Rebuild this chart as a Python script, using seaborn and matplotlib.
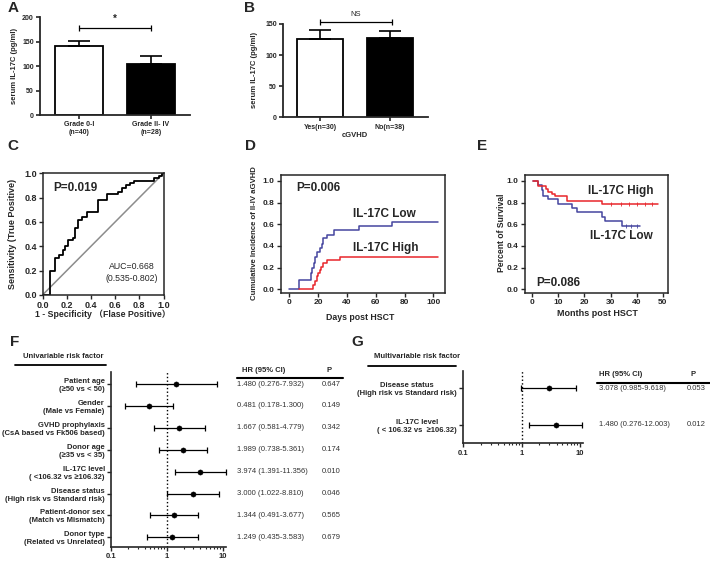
import numpy as np
import pandas as pd
import matplotlib
matplotlib.use("Agg")
import matplotlib.pyplot as plt
import seaborn as sns
from matplotlib.lines import Line2D
from matplotlib.ticker import LogLocator, NullFormatter
from matplotlib.transforms import blended_transform_factory

# ---- panel A / B : serum IL-17C ----
a_groups = ['Grade 0-I\n(n=40)', 'Grade II- IV\n(n=28)']
a_mean = [140.5, 104.5]
a_sem = [11, 15.5]
b_groups = ['Yes(n=30)', 'No(n=38)']
b_mean = [126, 127.5]
b_sem = [14, 12]

# ---- panel C : ROC ----
roc_fpr = [0, 0.066, 0.10, 0.14, 0.17, 0.19, 0.21, 0.25, 0.27, 0.29, 0.33, 0.37,
           0.46, 0.53, 0.62, 0.66, 0.69, 0.72, 0.76, 0.92, 0.96, 0.99, 1.0]
roc_tpr = [0, 0.20, 0.305, 0.33, 0.37, 0.40, 0.45, 0.47, 0.55, 0.62, 0.64, 0.68,
           0.78, 0.83, 0.85, 0.88, 0.90, 0.92, 0.94, 0.96, 0.98, 1.0, 1.0]

# ---- panel D : cumulative incidence ----
d_low_days = [0, 7, 15, 16, 17, 18, 19.5, 21, 22.5, 23.5, 26, 31, 48, 71, 103]
d_low_inc = [0, 0.09, 0.15, 0.20, 0.24, 0.30, 0.34, 0.38, 0.42, 0.47, 0.50, 0.55, 0.58, 0.62, 0.62]
d_high_days = [7, 16.5, 18, 19, 20, 21, 22, 23.5, 26, 35, 103]
d_high_inc = [0, 0.04, 0.08, 0.12, 0.15, 0.18, 0.21, 0.24, 0.27, 0.30, 0.30]

# ---- panel E : survival ----
e_low_months = [0.4, 2.3, 3.6, 4.2, 6.1, 10.0, 15.1, 17.0, 26.6, 27.9, 34.3, 41.3]
e_low_surv = [1.0, 0.96, 0.915, 0.86, 0.83, 0.786, 0.752, 0.71, 0.669, 0.63, 0.583, 0.583]
e_high_months = [0.4, 2.3, 5.1, 6.1, 7.4, 8.7, 13.2, 26.6, 48.1]
e_high_surv = [1.0, 0.955, 0.93, 0.90, 0.88, 0.86, 0.817, 0.79, 0.79]
e_high_cens = [30, 34, 37, 40, 43, 46]
e_low_cens = [36, 38, 40]

# ---- panel F : univariable ----
f_factors = ['Patient age\n(≥50 vs < 50)', 'Gender\n(Male vs Female)',
             'GVHD prophylaxis\n(CsA based vs Fk506 based)', 'Donor age\n(≥35 vs < 35)',
             'IL-17C level\n( <106.32 vs ≥106.32)', 'Disease status\n(High risk vs Standard risk)',
             'Patient-donor sex\n(Match vs Mismatch)', 'Donor type\n(Related vs Unrelated)']
f_hr = [1.480, 0.481, 1.667, 1.989, 3.974, 3.000, 1.344, 1.249]
f_lo = [0.276, 0.178, 0.581, 0.738, 1.391, 1.022, 0.491, 0.435]
f_hi = [7.932, 1.300, 4.779, 5.361, 11.356, 8.810, 3.677, 3.583]
f_p = ['0.647', '0.149', '0.342', '0.174', '0.010', '0.046', '0.565', '0.679']

# ---- panel G : multivariable ----
g_factors = ['Disease status\n(High risk vs Standard risk)', 'IL-17C level\n( < 106.32 vs  ≥106.32)']
g_hr = [2.9, 3.85]
g_lo = [0.985, 1.35]
g_hi = [8.6, 10.7]
g_table = ['3.078 (0.985-9.618)', '1.480 (0.276-12.003)']
g_p = ['0.053', '0.012']

BLUE = '#45459f'
RED = '#e8262b'

sns.set_style('ticks')
plt.rcParams['font.family'] = ['Liberation Sans', 'Noto Sans CJK SC', 'DejaVu Sans']
plt.rcParams['font.weight'] = 'bold'
plt.rcParams['axes.linewidth'] = 1.1

W, H = 710, 562
fig = plt.figure(figsize=(7.1, 5.62), dpi=100)


def box(x0, y0, x1, y1):
    return [x0 / W, 1 - y1 / H, (x1 - x0) / W, (y1 - y0) / H]


def ftext(x, y, s, **kw):
    kw.setdefault('ha', 'center')
    kw.setdefault('va', 'center')
    fig.text(x / W, 1 - y / H, s, **kw)


def fline(x0, x1, y, lw=1.3):
    fig.add_artist(Line2D([x0 / W, x1 / W], [1 - y / H, 1 - y / H], color='black', lw=lw,
                          transform=fig.transFigure))


def bars(ax, groups, mean, sem):
    df = pd.DataFrame({'group': groups, 'mean': mean})
    sns.barplot(data=df, x='group', y='mean', hue='group', palette=['white', 'black'],
                edgecolor='black', linewidth=1.3, width=0.66, legend=False, ax=ax)
    ax.errorbar(range(len(mean)), mean, yerr=[[0] * len(sem), sem], fmt='none',
                ecolor='black', elinewidth=1.2, capsize=8, capthick=1.2)
    ax.set_xlabel('')
    ax.set_ylabel('')
    sns.despine(ax=ax)
    ax.spines[['left', 'bottom']].set_linewidth(1.3)
    ax.tick_params(length=3, width=1.2, labelsize=5, pad=1.5)


# A
axA = fig.add_axes(box(40, 17.3, 190, 115))
bars(axA, a_groups, a_mean, a_sem)
axA.set_xlim(-0.54, 1.54)
axA.set_ylim(0, 200)
axA.set_yticks([0, 50, 100, 150, 200])
axA.plot([0, 1], [177.5, 177.5], color='black', lw=0.9, marker='|', ms=5, mew=0.9)
axA.text(0.5, 186, '*', ha='center', va='bottom', fontsize=7)
ftext(15, 66, 'serum IL-17C (pg/ml)', rotation=90, fontsize=5.5)

# B
axB = fig.add_axes(box(283, 24, 428, 117.3))
bars(axB, b_groups, b_mean, b_sem)
axB.set_xlim(-0.53, 1.55)
axB.set_ylim(0, 150)
axB.set_yticks([0, 50, 100, 150])
axB.plot([0, 1.03], [153.7, 153.7], color='black', lw=0.9, marker='|', ms=5, mew=0.9, clip_on=False)
axB.text(0.515, 160, 'NS', ha='center', va='bottom', fontsize=5.5, fontweight='normal')
ftext(255, 70, 'serum IL-17C (pg/ml)', rotation=90, fontsize=5.5)
ftext(355, 135, 'cGVHD', fontsize=5.5)

# C
axC = fig.add_axes(box(42.5, 173.3, 163.5, 295))
axC.plot([0, 1], [0, 1], color='#8c8c8c', lw=1.1)
sns.lineplot(x=roc_fpr, y=roc_tpr, drawstyle='steps-post', estimator=None, sort=False,
             color='black', lw=1.3, ax=axC)
axC.set_xlim(0, 1)
axC.set_ylim(0, 1)
ticks = [0, 0.2, 0.4, 0.6, 0.8, 1.0]
axC.set_xticks(ticks, [f'{t:.1f}' for t in ticks])
axC.set_yticks(ticks, [f'{t:.1f}' for t in ticks])
axC.tick_params(length=3, width=1, labelsize=6.5, pad=1)
axC.text(0.09, 0.88, 'P=0.019', fontsize=8.5, va='center')
axC.text(0.74, 0.185, 'AUC=0.668\n(0.535-0.802)', fontsize=6.3, ha='center', va='center',
         fontweight='normal', linespacing=1.3)
ftext(13, 234, 'Sensitivity (True Positive)', rotation=90, fontsize=6.5)
ftext(103, 314.5, '1 - Specificity （Flase Positive）', fontsize=6.3)

# D
axD = fig.add_axes(box(280.7, 175, 445, 293))
sns.lineplot(x=d_low_days, y=d_low_inc, drawstyle='steps-post', estimator=None, sort=False,
             color=BLUE, lw=1.1, ax=axD)
sns.lineplot(x=d_high_days, y=d_high_inc, drawstyle='steps-post', estimator=None, sort=False,
             color=RED, lw=1.1, ax=axD)
axD.set_xlim(-6, 108)
axD.set_ylim(-0.034, 1.055)
axD.set_xticks(range(0, 101, 20))
axD.set_yticks(ticks, [f'{t:.1f}' for t in ticks])
axD.tick_params(length=3, width=1, labelsize=6, pad=1.5)
ftext(296, 188, 'P=0.006', fontsize=8.5, ha='left')
ftext(353, 214, 'IL-17C Low', fontsize=8.5, ha='left')
ftext(353, 248, 'IL-17C High', fontsize=8.5, ha='left')
ftext(255, 233, 'Cumulative Incidence of II-IV aGVHD', rotation=90, fontsize=5.6)
ftext(360, 317, 'Days post HSCT', fontsize=6.3)

# E
axE = fig.add_axes(box(525, 175, 668, 293))
sns.lineplot(x=e_low_months, y=e_low_surv, drawstyle='steps-post', estimator=None, sort=False,
             color=BLUE, lw=1.1, ax=axE)
sns.lineplot(x=e_high_months, y=e_high_surv, drawstyle='steps-post', estimator=None, sort=False,
             color=RED, lw=1.1, ax=axE)
axE.plot(e_high_cens, np.interp(e_high_cens, e_high_months, e_high_surv), ls='none',
         marker='|', ms=2.5, mew=0.6, color=RED)
axE.plot(e_low_cens, [e_low_surv[-1]] * len(e_low_cens), ls='none',
         marker='|', ms=2.5, mew=0.6, color=BLUE)
axE.set_xlim(-2.8, 52)
axE.set_ylim(-0.034, 1.055)
axE.set_xticks(range(0, 51, 10))
axE.set_yticks(ticks, [f'{t:.1f}' for t in ticks])
axE.tick_params(length=3, width=1, labelsize=6, pad=1.5)
ftext(588, 191, 'IL-17C High', fontsize=8.5, ha='left')
ftext(590, 236, 'IL-17C Low', fontsize=8.5, ha='left')
ftext(536, 283, 'P=0.086', fontsize=8.5, ha='left')
ftext(502, 233, 'Percent of Survival', rotation=90, fontsize=6.2)
ftext(597, 314, 'Months post HSCT', fontsize=6.5)


def forest(ax, hr, lo, hi, labels, xmax, ylim, align):
    rows = list(range(len(hr)))
    ax.set_xscale('log')
    hr_a, lo_a, hi_a = np.array(hr), np.array(lo), np.array(hi)
    ax.errorbar(hr, rows, xerr=[hr_a - lo_a, hi_a - hr_a], fmt='none', ecolor='black',
                elinewidth=0.9, capsize=2, capthick=0.9, clip_on=False)
    sns.scatterplot(x=hr, y=rows, color='black', s=14, edgecolor='black', zorder=3, ax=ax,
                    clip_on=False)
    ax.axvline(1, ls=':', color='black', lw=1)
    ax.set_xlim(0.1, xmax)
    ax.set_ylim(*ylim)
    ax.set_xticks([0.1, 1, 10], ['0.1', '1', '10'])
    ax.xaxis.set_minor_locator(LogLocator(base=10, subs=range(2, 10)))
    ax.xaxis.set_minor_formatter(NullFormatter())
    ax.set_yticks(rows, labels)
    for lbl in ax.get_yticklabels():
        lbl.set_multialignment(align)
    ax.tick_params(which='major', length=3, width=1, labelsize=5.5, pad=1.5)
    ax.tick_params(which='minor', length=1.5, width=0.8)
    sns.despine(ax=ax)
    ax.spines[['left', 'bottom']].set_linewidth(1.2)
    return rows


# F
axF = fig.add_axes(box(111, 372, 225.7, 546.7))
rowsF = forest(axF, f_hr, f_lo, f_hi, f_factors, 11.4, (7.43, -0.55), 'right')
trF = blended_transform_factory(fig.transFigure, axF.transData)
for r, hr, lo, hi, p in zip(rowsF, f_hr, f_lo, f_hi, f_p):
    fig.text(237 / W, r, f'{hr:.3f} ({lo:.3f}-{hi:.3f})', transform=trF, fontsize=5.5,
             fontweight='normal', color='#333333', va='center', ha='left')
    fig.text(331.5 / W, r, p, transform=trF, fontsize=5.5, fontweight='normal',
             color='#333333', va='center', ha='center')
ftext(10, 342, 'F', fontsize=11, ha='left')
ftext(63.5, 356.7, 'Univariable risk factor', fontsize=5.5)
fline(15, 106, 365)
ftext(242.5, 370, 'HR (95% CI)', fontsize=5.5, ha='left')
ftext(329.5, 370, 'P', fontsize=5.5)
fline(237, 343, 378.3, lw=1.5)

# G
axG = fig.add_axes(box(463, 371, 582.7, 443.3))
rowsG = forest(axG, g_hr, g_lo, g_hi, g_factors, 11.1, (1.5, -0.47), 'center')
trG = blended_transform_factory(fig.transFigure, axG.transData)
for r, s, p in zip(rowsG, g_table, g_p):
    fig.text(599 / W, r, s, transform=trG, fontsize=5.5, fontweight='normal',
             color='#333333', va='center', ha='left')
    fig.text(696 / W, r, p, transform=trG, fontsize=5.5, fontweight='normal',
             color='#333333', va='center', ha='center')
ftext(351, 342, 'G', fontsize=11, ha='left')
ftext(416.7, 356.7, 'Multivariable risk factor', fontsize=5.5)
fline(368, 456, 366)
ftext(599, 374.3, 'HR (95% CI)', fontsize=5.5, ha='left')
ftext(693, 374.3, 'P', fontsize=5.5)
fline(597, 710, 382.7, lw=1.5)

# panel letters
for letter, x, y in [('A', 8, 8), ('B', 244, 8), ('C', 7, 146), ('D', 245, 146), ('E', 477, 146)]:
    ftext(x, y, letter, fontsize=11, ha='left')

fig.savefig('out.png', dpi=100, facecolor='white')
